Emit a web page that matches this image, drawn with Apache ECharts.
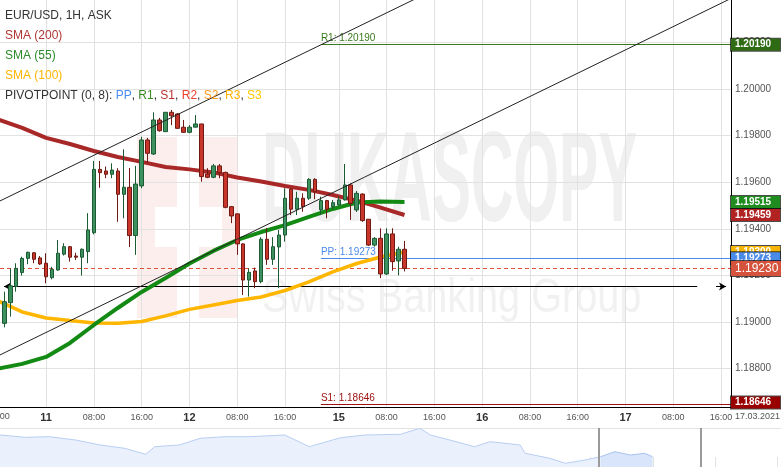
<!DOCTYPE html>
<html><head><meta charset="utf-8">
<script src="https://cdn.jsdelivr.net/npm/echarts@6/dist/echarts.min.js"></script>
<style>html,body{margin:0;padding:0;background:#fff}#c{width:781px;height:467px}</style>
</head><body><div id="c"></div><script>
const FONT = '"Liberation Sans", Arial, Helvetica, sans-serif';

// hour index: 0 = 11 Mar 00:00 (weekend hours removed)
const candleStartHour = -7;
// [open, close, low, high]
const candles = [
 [1.18994,1.19087,1.18977,1.19130],[1.19083,1.19155,1.19023,1.19230],[1.19152,1.19230,1.19130,1.19252],
 [1.19212,1.19273,1.19199,1.19280],[1.19273,1.19299,1.19248,1.19302],[1.19297,1.19269,1.19252,1.19299],
 [1.19275,1.19249,1.19245,1.19283],[1.19252,1.19194,1.19166,1.19295],[1.19190,1.19226,1.19183,1.19237],
 [1.19223,1.19295,1.19220,1.19352],[1.19291,1.19323,1.19285,1.19338],[1.19323,1.19278,1.19259,1.19326],
 [1.19283,1.19278,1.19266,1.19297],[1.19278,1.19312,1.19199,1.19316],[1.19302,1.19395,1.19252,1.19467],
 [1.19383,1.19655,1.19376,1.19691],[1.19655,1.19641,1.19576,1.19691],[1.19648,1.19634,1.19617,1.19667],
 [1.19634,1.19652,1.19617,1.19681],[1.19648,1.19548,1.19430,1.19660],[1.19548,1.19578,1.19445,1.19741],
 [1.19578,1.19371,1.19322,1.19661],[1.19371,1.19592,1.19288,1.19670],[1.19584,1.19781,1.19574,1.19795],
 [1.19781,1.19724,1.19682,1.19790],[1.19721,1.19867,1.19717,1.19900],[1.19867,1.19821,1.19817,1.19876],
 [1.19817,1.19900,1.19815,1.19900],[1.19900,1.19885,1.19845,1.19910],[1.19893,1.19831,1.19831,1.19897],
 [1.19836,1.19814,1.19812,1.19867],[1.19814,1.19836,1.19810,1.19845],[1.19836,1.19850,1.19836,1.19888],
 [1.19850,1.19624,1.19602,1.19850],[1.19635,1.19621,1.19617,1.19660],[1.19621,1.19670,1.19617,1.19678],
 [1.19670,1.19641,1.19617,1.19678],[1.19642,1.19492,1.19488,1.19645],[1.19495,1.19455,1.19424,1.19498],
 [1.19464,1.19335,1.19288,1.19464],[1.19335,1.19180,1.19116,1.19338],[1.19180,1.19213,1.19109,1.19230],
 [1.19219,1.19173,1.19145,1.19233],[1.19173,1.19355,1.19166,1.19364],[1.19355,1.19269,1.19245,1.19403],
 [1.19269,1.19323,1.19245,1.19364],[1.19322,1.19373,1.19145,1.19395],[1.19373,1.19531,1.19345,1.19574],
 [1.19570,1.19484,1.19459,1.19574],[1.19484,1.19531,1.19459,1.19559],[1.19531,1.19495,1.19473,1.19552],
 [1.19531,1.19612,1.19524,1.19617],[1.19612,1.19559,1.19527,1.19617],[1.19481,1.19521,1.19459,1.19538],
 [1.19521,1.19484,1.19445,1.19524],[1.19495,1.19512,1.19484,1.19524],[1.19502,1.19524,1.19502,1.19538],
 [1.19524,1.19588,1.19521,1.19678],[1.19588,1.19509,1.19438,1.19595],[1.19481,1.19552,1.19472,1.19562],
 [1.19549,1.19435,1.19430,1.19552],[1.19441,1.19330,1.19326,1.19441],[1.19330,1.19359,1.19323,1.19364],
 [1.19359,1.19206,1.19188,1.19402],[1.19206,1.19378,1.19202,1.19402],[1.19378,1.19259,1.19220,1.19402],
 [1.19262,1.19312,1.19200,1.19323],[1.19312,1.19230,1.19217,1.19348]
];

const smaHours = [-8,-4,0,4,8,12,16,20,24,28,32,36,40,44,48,52,56,60];
const sma200 = [1.19869,1.19833,1.19790,1.19764,1.19734,1.19708,1.19687,1.19665,1.19655,1.19642,1.19620,1.19603,1.19584,1.19567,1.19545,1.19521,1.19491,1.19459];
const sma55  = [1.18800,1.18820,1.18850,1.18910,1.18987,1.19060,1.19129,1.19189,1.19251,1.19305,1.19352,1.19386,1.19416,1.19451,1.19485,1.19513,1.19517,1.19515];
const sma100 = [1.19090,1.19043,1.19017,1.19006,1.18996,1.18994,1.19002,1.19026,1.19054,1.19073,1.19092,1.19107,1.19135,1.19172,1.19215,1.19251,1.19279,1.19300];

const pivotNames = ['R1','PP','S1'];
const pivotValues = [1.20190, 1.19273, 1.18646];
const pivotStartHour = 46;
const lastPrice = 1.19230;

const rayLevel = 1.19152;
const rayStartHour = -7.05, rayEndHour = 109;
const rayArrowHours = [112.15, 113.83];
const upperChannel = [[-8, 1.19516], [70, 1.20489]];
const lowerChannel = [[-8, 1.18855], [115, 1.20393]];

const tickHours  = [0, 8, 16, 24, 32, 40, 49, 57, 65, 73, 81, 89, 97, 105, 113];
const tickLabels = ['11','08:00','16:00','12','08:00','16:00','15','08:00','16:00','16','08:00','16:00','17','08:00','16:00'];
const priceTicks = [1.188, 1.190, 1.192, 1.194, 1.196, 1.198, 1.200, 1.202];

const hourMin = -7.72, hourMax = 114.66;
const priceMin = 1.18635, priceMax = 1.20382;

// navigator overview (days, price)
const navDays   = [0,1.9,3.8,5.8,7.7,9.6,11.2,11.9,13.8,15.4,17.3,19.2,21.9,23.8,26.2,28.1,30.8,32.3,33.1,34.6,36.5,37.7,40,40.4,42.3,43.5,45,46.2,47.3,48.5,49.6,50.2];
const navValues = [1.22603,1.22308,1.22385,1.21962,1.21321,1.20897,1.20128,1.21103,1.21321,1.22179,1.22385,1.22385,1.22603,1.21103,1.22256,1.22603,1.22692,1.23462,1.22603,1.21962,1.21103,1.21744,1.21321,1.20256,1.19615,1.18974,1.19397,1.19820,1.20462,1.20038,1.20256,1.19820];
const navWindow = [46.08, 53.92];
const navTicks = [2.31,7.10,11.89,16.68,21.48,26.27,31.06,35.85,40.65,45.44,50.23,55.02,59.82];
const navMax = 60.08;

const candleData = candles.map((c, i) => [candleStartHour + i, c[0], c[1], c[2], c[3]]);
const pairs = (xs, ys) => xs.map((x, i) => [x, ys[i]]);
const navAll = pairs(navDays, navValues);
const splitIdx = navDays.findIndex(d => d >= navWindow[0]);
const navA = navAll.slice(0, splitIdx + 1);
const navB = navAll.slice(splitIdx);

const pivotColors = ['#3a7a1c', '#4a8ae8', '#a01212'];
const levelLines = pivotValues.map((v, i) => [
  {coord: [pivotStartHour, v], lineStyle: {color: pivotColors[i], width: 1, type: 'solid'},
   label: {show: true, position: 'insideStartTop', distance: [0, 1], formatter: pivotNames[i] + ': ' + v.toFixed(5),
           color: pivotColors[i], fontSize: 10, fontFamily: FONT}},
  {coord: [hourMax, v]}
]);
levelLines.push([
  {coord: [hourMin, lastPrice], lineStyle: {color: '#e3503c', width: 1, type: [4, 3]}},
  {coord: [hourMax, lastPrice]}
]);
levelLines.push([
  {coord: [rayStartHour, rayLevel], symbol: 'arrow', symbolSize: [6, 7], lineStyle: {color: '#000', width: 1, type: 'solid'}},
  {coord: [rayEndHour, rayLevel], symbol: 'none'}
]);
levelLines.push([
  {coord: [rayArrowHours[0], rayLevel], symbol: 'none', lineStyle: {color: '#000', width: 1, type: 'solid'}},
  {coord: [rayArrowHours[1], rayLevel], symbol: 'arrow', symbolSize: [6, 7]}
]);

const tagDefs = [
  {v: pivotValues[0], bg: '#2f6b12'},
  {v: sma55[sma55.length - 1], bg: '#1e8c1e'},
  {v: sma200[sma200.length - 1], bg: '#b12222'},
  {v: sma100[sma100.length - 1], bg: '#f5b400'},
  {v: pivotValues[1], bg: '#4a8ae8'},
  {v: lastPrice, bg: '#d5523c', big: true},
  {v: pivotValues[2], bg: '#990000', dy: -2}
];
const tagLines = tagDefs.map(d => [
  {coord: [hourMax - 0.05, d.v], lineStyle: {color: 'rgba(0,0,0,0)', width: 0, opacity: 1},
   label: {show: true, opacity: 1, position: 'end', distance: 0, formatter: d.v.toFixed(5), color: '#fff',
     backgroundColor: d.bg, borderColor: 'rgba(0,0,0,0.7)', borderWidth: 1, fontFamily: FONT,
     fontSize: d.big ? 12 : 10, fontWeight: d.big ? 'normal' : 'bold', lineHeight: d.big ? 14 : 11,
     padding: d.big ? [1, 3, 0, 4] : [1, 9, 0, 4], offset: [0, d.dy || 0]}},
  {coord: [hourMax, d.v]}
]);

const chart = echarts.init(document.getElementById('c'), null, {renderer: 'canvas', width: 781, height: 467});
chart.setOption({
  animation: false,
  backgroundColor: '#fff',
  grid: [
    {left: 0, right: 50, top: 0, bottom: 60},
    {left: 0, right: 0, top: 428, height: 39}
  ],
  xAxis: [
    {type: 'value', gridIndex: 0, min: hourMin, max: hourMax,
     axisLine: {show: true, onZero: false, lineStyle: {color: '#000', width: 1}},
     axisTick: {show: false, customValues: tickHours},
     axisLabel: {customValues: tickHours, margin: 4,
       formatter: v => { const i = tickHours.indexOf(v); if (i < 0) return ''; const s = tickLabels[i];
         return s.length <= 2 ? '{d|' + s + '}' : '{h|' + s + '}'; },
       rich: {d: {fontSize: 11, fontWeight: 'bold', color: '#333', lineHeight: 13, fontFamily: FONT},
              h: {fontSize: 9, color: '#555', lineHeight: 13, fontFamily: FONT}}},
     splitLine: {show: true, lineStyle: {color: '#e2e2e2', width: 1}}},
    {type: 'value', gridIndex: 1, min: 0, max: navMax,
     axisLine: {show: false}, axisLabel: {show: false},
     axisTick: {show: true, inside: true, length: 10, customValues: navTicks, lineStyle: {color: '#e2e2e2'}},
     splitLine: {show: false}},
    {type: 'value', gridIndex: 1, position: 'top', min: 0, max: navMax,
     axisLine: {show: true, onZero: false, lineStyle: {color: '#e2e2e2'}}, axisLabel: {show: false},
     axisTick: {show: false}, splitLine: {show: false}}
  ],
  yAxis: [
    {type: 'value', gridIndex: 0, position: 'right', min: priceMin, max: priceMax,
     axisLine: {show: true, onZero: false, lineStyle: {color: '#000', width: 1}},
     axisTick: {show: false, customValues: priceTicks},
     axisLabel: {customValues: priceTicks, formatter: v => v.toFixed(5), color: '#555', fontSize: 10, margin: 4, fontFamily: FONT},
     splitLine: {show: true, lineStyle: {color: '#e2e2e2', width: 1}}},
    {type: 'value', gridIndex: 1, min: 1.185, max: 1.235, show: false}
  ],
  graphic: {elements: [
    {type: 'rect', z: -1, silent: true, shape: {x: 137, y: 137, width: 101, height: 181}, style: {fill: '#fdeeee'}},
    {type: 'rect', z: -1, z2: 1, silent: true, shape: {x: 177, y: 137, width: 22, height: 181}, style: {fill: '#fff'}},
    {type: 'rect', z: -1, z2: 1, silent: true, shape: {x: 155, y: 207, width: 67, height: 40}, style: {fill: '#fff'}},
    {type: 'text', z: -1, silent: true, x: 262, y: 249.6, scaleX: 0.459,
     style: {text: 'DUKASCOPY', font: 'bold 128px ' + FONT, fill: '#f0f0f0', verticalAlign: 'bottom', align: 'left'}},
    {type: 'text', z: -1, silent: true, x: 262, y: 322.5, scaleX: 0.81,
     style: {text: 'Swiss Banking Group', font: '49px ' + FONT, fill: '#f1f1f1', verticalAlign: 'bottom', align: 'left'}},
    {type: 'text', z: 100, x: 5, y: 16, style: {text: 'EUR/USD, 1H, ASK', font: '12px ' + FONT, fill: '#333', verticalAlign: 'middle'}},
    {type: 'text', z: 100, x: 5, y: 36, style: {text: 'SMA (200)', font: '12px ' + FONT, fill: '#b03535', verticalAlign: 'middle'}},
    {type: 'text', z: 100, x: 5, y: 56, style: {text: 'SMA (55)', font: '12px ' + FONT, fill: '#2b8a2b', verticalAlign: 'middle'}},
    {type: 'text', z: 100, x: 5, y: 76, style: {text: 'SMA (100)', font: '12px ' + FONT, fill: '#ffb400', verticalAlign: 'middle'}},
    {type: 'text', z: 100, x: 5, y: 96, style: {
      text: '{d|PIVOTPOINT (0, 8): }{pp|PP}{d|, }{r1|R1}{d|, }{s1|S1}{d|, }{r2|R2}{d|, }{s2|S2}{d|, }{r3|R3}{d|, }{s3|S3}',
      font: '12px ' + FONT, verticalAlign: 'middle',
      rich: {d: {fill: '#333', fontSize: 12, fontFamily: FONT}, pp: {fill: '#4a8ff0', fontSize: 12, fontFamily: FONT},
             r1: {fill: '#3a8a22', fontSize: 12, fontFamily: FONT}, s1: {fill: '#b83030', fontSize: 12, fontFamily: FONT},
             r2: {fill: '#f0402e', fontSize: 12, fontFamily: FONT}, s2: {fill: '#ff9a1a', fontSize: 12, fontFamily: FONT},
             r3: {fill: '#ffb300', fontSize: 12, fontFamily: FONT}, s3: {fill: '#ffc800', fontSize: 12, fontFamily: FONT}}}},
    {type: 'text', z: 100, x: -1.5, y: 417, style: {text: '16:00', font: '9px ' + FONT, fill: '#555', align: 'center', verticalAlign: 'middle'}},
    {type: 'text', z: 100, x: 780, y: 417, style: {text: '17.03.2021', font: '9px ' + FONT, fill: '#555', align: 'right', verticalAlign: 'middle'}}
  ]},
  series: [
    {type: 'line', name: 'levels', data: [], z: 1,
     markLine: {silent: true, z: 1, symbol: 'none', label: {show: false}, data: levelLines}},
    {type: 'line', name: 'SMA (200)', data: pairs(smaHours, sma200), symbol: 'none', z: 2,
     lineStyle: {color: '#a82828', width: 4}},
    {type: 'line', name: 'SMA (100)', data: pairs(smaHours, sma100), symbol: 'none', z: 2,
     lineStyle: {color: '#ffb600', width: 3.5}},
    {type: 'line', name: 'SMA (55)', data: pairs(smaHours, sma55), symbol: 'none', z: 2,
     lineStyle: {color: '#138a13', width: 4}},
    {type: 'candlestick', name: 'EUR/USD', data: candleData, encode: {x: 0, y: [1, 2, 3, 4]}, z: 3, barWidth: 4,
     itemStyle: {color: '#3d915f', color0: '#c8362b', borderColor: '#1c5a34', borderColor0: '#6e1a12', borderWidth: 1}},
    {type: 'line', name: 'channel upper', data: upperChannel, symbol: 'none', z: 4, lineStyle: {color: '#222', width: 1}},
    {type: 'line', name: 'channel lower', data: lowerChannel, symbol: 'none', z: 4, lineStyle: {color: '#222', width: 1}},
    {type: 'line', name: 'tags', data: [], z: 6,
     markLine: {silent: true, z: 6, symbol: 'none', label: {show: true}, data: tagLines}},
    {type: 'line', name: 'nav', xAxisIndex: 1, yAxisIndex: 1, data: navA, symbol: 'none', z: 2,
     lineStyle: {color: '#b8cdf2', width: 1}, areaStyle: {color: '#eaf1fd', opacity: 1, origin: 'start'},
     markLine: {silent: true, symbol: 'none', label: {show: false}, lineStyle: {color: '#9a9a9a', width: 2, type: 'solid'},
       data: navWindow.map(d => ({xAxis: d}))}},
    {type: 'line', name: 'nav window', xAxisIndex: 1, yAxisIndex: 1, data: navB, symbol: 'none', z: 2,
     lineStyle: {color: '#a9c3f0', width: 1}, areaStyle: {color: '#d8e5fb', opacity: 1, origin: 'start'}}
  ]
});
</script></body></html>
